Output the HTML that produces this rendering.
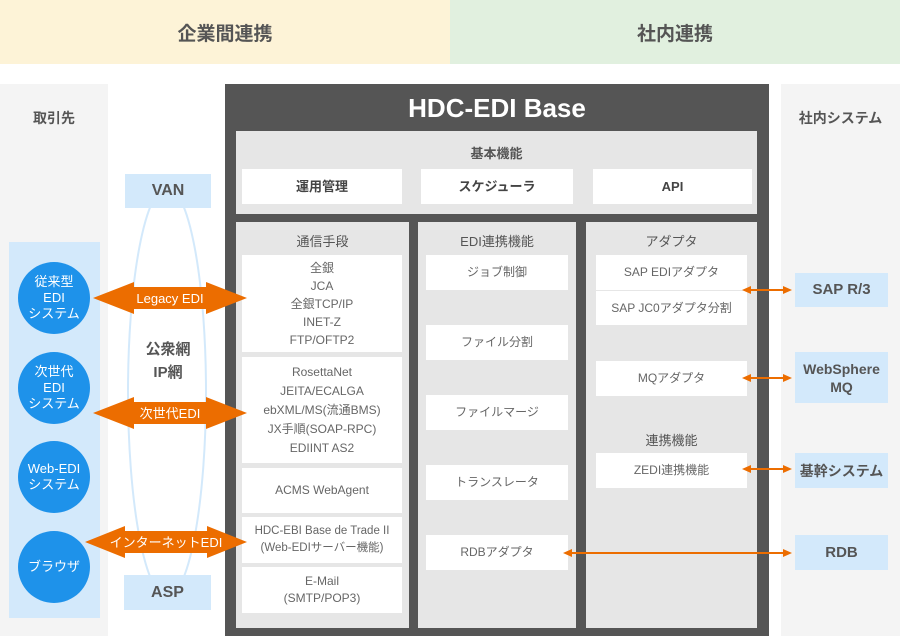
<!DOCTYPE html>
<html><head><meta charset="utf-8"><style>
*{margin:0;padding:0;box-sizing:border-box}
body{width:900px;height:636px;position:relative;overflow:hidden;background:#fff;font-family:"Liberation Sans","Noto Sans CJK JP",sans-serif;color:#555}
div{position:absolute}
.c{display:flex;align-items:center;justify-content:center;text-align:center}
.w{background:#fff;font-size:12px;color:#666;line-height:19px}
.t{font-size:13px;color:#555;text-align:center}
.b{background:#d3e9fb;font-weight:bold;font-size:15px;color:#555;line-height:18px}
.ci{width:72px;height:72px;border-radius:50%;background:#1e92ea;color:#fff;font-size:13px;line-height:16px;left:18px}
.bold{font-weight:bold}
</style></head><body>
<div class="c bold" style="left:0;top:0;width:450px;height:64px;background:#fdf3d7;font-size:19px;color:#555">企業間連携</div>
<div class="c bold" style="left:450px;top:0;width:450px;height:64px;background:#e1f0df;font-size:19px;color:#555">社内連携</div>
<div style="left:0;top:84px;width:108px;height:552px;background:#f4f4f4"></div>
<div class="t bold" style="left:0;top:108px;width:108px;font-size:14px">取引先</div>
<div style="left:781px;top:84px;width:119px;height:552px;background:#f4f4f4"></div>
<div class="t bold" style="left:781px;top:108px;width:119px;font-size:14px">社内システム</div>
<div style="left:9px;top:242px;width:91px;height:376px;background:#d3e9fb"></div>
<div class="ci c" style="top:262px">従来型<br>EDI<br>システム</div>
<div class="ci c" style="top:352px">次世代<br>EDI<br>システム</div>
<div class="ci c" style="top:441px">Web-EDI<br>システム</div>
<div class="ci c" style="top:531px">ブラウザ</div>
<svg style="position:absolute;left:0;top:0" width="900" height="636">
<ellipse cx="167" cy="392" rx="39" ry="205" fill="#fff" stroke="#d3e9fb" stroke-width="2"/>
</svg>
<div class="b c" style="left:125px;top:174px;width:86px;height:34px;font-size:16px">VAN</div>
<div class="b c" style="left:124px;top:575px;width:87px;height:35px;font-size:16px">ASP</div>
<div class="t bold" style="left:128px;top:338px;width:80px;font-size:15px;line-height:23px">公衆網<br>IP網</div>
<div style="left:225px;top:84px;width:544px;height:552px;background:#555"></div>
<div class="t bold" style="left:225px;top:88px;width:544px;font-size:26px;color:#fff;line-height:40px">HDC-EDI Base</div>
<div style="left:236px;top:131px;width:521px;height:83px;background:#e6e6e6"></div>
<div class="t bold" style="left:236px;top:143px;width:521px">基本機能</div>
<div class="w c bold" style="left:242px;top:169px;width:160px;height:35px;color:#444;font-size:13px">運用管理</div>
<div class="w c bold" style="left:421px;top:169px;width:152px;height:35px;color:#444;font-size:13px">スケジューラ</div>
<div class="w c bold" style="left:593px;top:169px;width:159px;height:35px;color:#444;font-size:13px">API</div>
<div style="left:236px;top:222px;width:173px;height:406px;background:#e6e6e6"></div>
<div style="left:418px;top:222px;width:158px;height:406px;background:#e6e6e6"></div>
<div style="left:586px;top:222px;width:171px;height:406px;background:#e6e6e6"></div>
<div class="t" style="left:236px;top:231px;width:173px">通信手段</div>
<div class="t" style="left:418px;top:231px;width:158px">EDI連携機能</div>
<div class="t" style="left:586px;top:231px;width:171px">アダプタ</div>
<div class="w c" style="left:242px;top:255px;width:160px;height:97px;line-height:18px">全銀<br>JCA<br>全銀TCP/IP<br>INET-Z<br>FTP/OFTP2</div>
<div class="w c" style="left:242px;top:357px;width:160px;height:106px">RosettaNet<br>JEITA/ECALGA<br>ebXML/MS(流通BMS)<br>JX手順(SOAP-RPC)<br>EDIINT AS2</div>
<div class="w c" style="left:242px;top:468px;width:160px;height:45px">ACMS WebAgent</div>
<div class="w c" style="left:242px;top:517px;width:160px;height:46px;font-size:11.5px;line-height:17px">HDC-EBI Base de Trade II<br>(Web-EDIサーバー機能)</div>
<div class="w c" style="left:242px;top:567px;width:160px;height:46px;line-height:17px">E-Mail<br>(SMTP/POP3)</div>
<div class="w c" style="left:426px;top:255px;width:142px;height:35px">ジョブ制御</div>
<div class="w c" style="left:426px;top:325px;width:142px;height:35px">ファイル分割</div>
<div class="w c" style="left:426px;top:395px;width:142px;height:35px">ファイルマージ</div>
<div class="w c" style="left:426px;top:465px;width:142px;height:35px">トランスレータ</div>
<div class="w c" style="left:426px;top:535px;width:142px;height:35px">RDBアダプタ</div>
<div class="w c" style="left:596px;top:255px;width:151px;height:35px">SAP EDIアダプタ</div>
<div class="w c" style="left:596px;top:291px;width:151px;height:34px">SAP JC0アダプタ分割</div>
<div class="w c" style="left:596px;top:361px;width:151px;height:35px">MQアダプタ</div>
<div class="t" style="left:586px;top:430px;width:171px">連携機能</div>
<div class="w c" style="left:596px;top:453px;width:151px;height:35px">ZEDI連携機能</div>
<div class="b c" style="left:795px;top:273px;width:93px;height:34px">SAP R/3</div>
<div class="b c" style="left:795px;top:352px;width:93px;height:51px;font-size:14px">WebSphere<br>MQ</div>
<div class="b c" style="left:795px;top:453px;width:93px;height:35px;font-size:14px">基幹システム</div>
<div class="b c" style="left:795px;top:535px;width:93px;height:35px">RDB</div>
<svg style="position:absolute;left:0;top:0" width="900" height="636">
<g fill="#ec6d00">
<polygon points="93,298 134,282 134,287 206,287 206,282 247,298 206,314 206,309 134,309 134,314"/>
<polygon points="93,413 134,397 134,402 206,402 206,397 247,413 206,429 206,424 134,424 134,429"/>
<polygon points="85,542 125,526 125,531 207,531 207,526 247,542 207,558 207,553 125,553 125,558"/>
</g>
<g stroke="#ec6d00" stroke-width="2" fill="#ec6d00">
<line x1="748" y1="290" x2="786" y2="290"/><polygon points="742,290 751,286 751,294" stroke="none"/><polygon points="792,290 783,286 783,294" stroke="none"/>
<line x1="748" y1="378" x2="786" y2="378"/><polygon points="742,378 751,374 751,382" stroke="none"/><polygon points="792,378 783,374 783,382" stroke="none"/>
<line x1="748" y1="469" x2="786" y2="469"/><polygon points="742,469 751,465 751,473" stroke="none"/><polygon points="792,469 783,465 783,473" stroke="none"/>
<line x1="569" y1="553" x2="786" y2="553"/><polygon points="563,553 572,549 572,557" stroke="none"/><polygon points="792,553 783,549 783,557" stroke="none"/>
</g>
<g fill="#fff" font-family="Liberation Sans,Noto Sans CJK JP,sans-serif" font-size="13" text-anchor="middle">
<text x="170" y="303">Legacy EDI</text>
<text x="170" y="418">次世代EDI</text>
<text x="166" y="547">インターネットEDI</text>
</g>
</svg>
</body></html>
